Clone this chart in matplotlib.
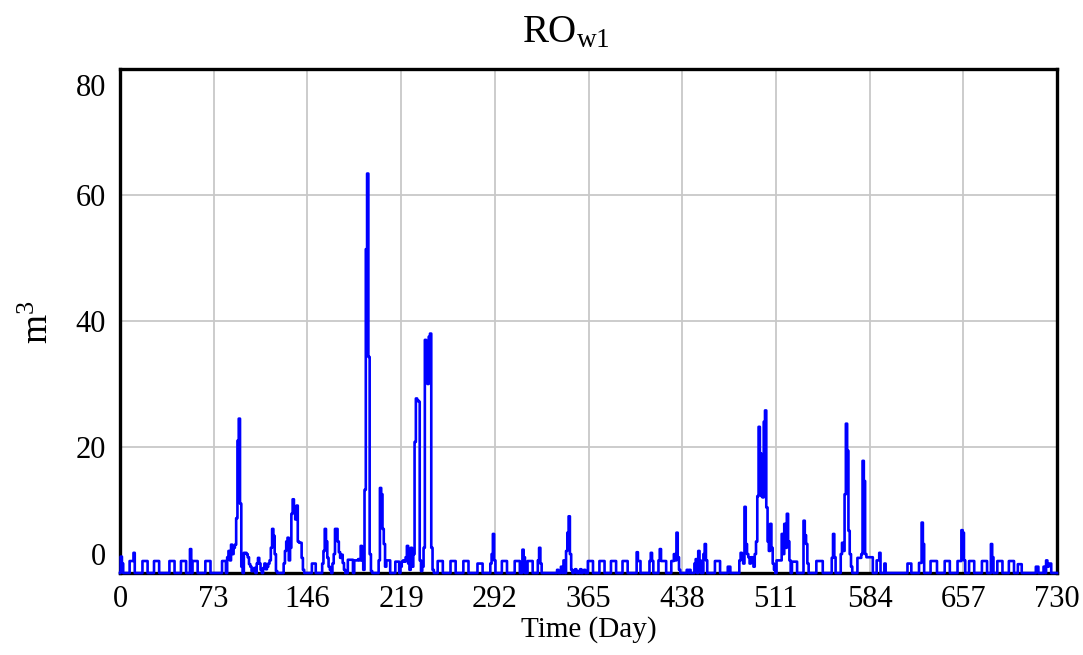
import numpy as np
import matplotlib
matplotlib.use('Agg')
import matplotlib.pyplot as plt
from matplotlib.transforms import ScaledTranslation

plt.rcParams['font.family'] = ['Liberation Serif', 'DejaVu Serif']
plt.rcParams['mathtext.fontset'] = 'custom'
plt.rcParams['mathtext.rm'] = 'Liberation Serif'
plt.rcParams['mathtext.it'] = 'Liberation Serif:italic'

n_days = 730
x_ticks = [0, 73, 146, 219, 292, 365, 438, 511, 584, 657, 730]
y_ticks = [0, 20, 40, 60, 80]

# recurring small pulses: start day, duration (days), height (m3)
pulse_start = [8, 18, 27, 39, 48, 57, 67, 80, 150, 178, 183, 208, 215, 220,
               248, 258, 268, 279, 298, 308, 318, 365, 374, 383, 392, 403,
               413, 422, 430, 464, 474, 512, 524, 543, 575, 583, 590, 614,
               623, 632, 643, 653, 662, 672, 684, 693, 700, 714, 724]
pulse_len = [3, 4, 4, 4, 4, 4, 4, 3, 3, 4, 4, 3, 3, 3,
             4, 4, 4, 4, 4, 4, 4, 4, 4, 4, 4, 3,
             3, 4, 4, 4, 2, 4, 4, 5, 3, 4, 3, 3,
             2, 5, 4, 3, 4, 4, 4, 4, 3, 2, 2]
pulse_height = [1.9, 1.9, 1.9, 1.9, 1.9, 1.9, 1.9, 1.9, 1.5, 2.1, 2.0, 2.0, 1.8, 1.8,
                1.9, 1.9, 1.9, 1.5, 1.9, 1.9, 1.9, 1.9, 1.9, 1.9, 1.9, 1.9,
                1.9, 1.9, 1.9, 1.9, 1.0, 2.0, 1.8, 1.9, 2.4, 2.5, 2.0, 1.5,
                1.6, 1.9, 1.9, 1.9, 1.9, 1.9, 1.9, 1.9, 1.4, 1.0, 1.5]

# storm runoff days (day, m3)
event_day = [1, 2, 11, 55,
             84, 85, 86, 87, 88, 89, 90, 91, 92, 93, 94, 95,
             97, 98, 99, 100, 101, 102, 103, 104, 105, 107, 108, 109, 110,
             112, 113, 114, 115, 116, 117, 118, 119, 120, 121, 122,
             128, 129, 130, 131, 132, 133, 134, 135, 136, 137, 138, 139, 140, 141, 142, 143,
             158, 159, 160, 161, 162, 163, 164,
             166, 167, 168, 169, 170, 171, 172, 173, 174, 175,
             186, 187, 188, 189, 190, 191, 192, 193, 194, 195, 196,
             202, 203, 204, 205, 206, 207,
             219, 221, 223, 224, 225, 226, 227, 228,
             229, 230, 231, 232, 233, 234, 235,
             236, 237, 238, 239, 240, 241, 242, 243, 244,
             289, 290, 291, 292, 314, 315, 326, 327, 328,
             341, 344, 346, 348, 349, 350, 351, 352,
             354, 355, 357, 359, 361, 362,
             403, 414, 420, 421,
             432, 433, 434, 435, 436,
             442, 444, 448, 449, 451, 452, 455, 456, 457,
             483, 484, 485, 486, 487, 488, 489, 490, 491, 492, 493, 494, 495, 496,
             497, 498, 499, 500, 501, 502, 503, 504, 505, 506, 507, 508, 509, 510,
             516, 517, 518, 519, 520, 521, 522,
             533, 534, 535, 536,
             555, 556, 557,
             562, 563, 564, 565, 566, 567, 568, 569, 570,
             578, 579, 580, 581, 582,
             592, 596, 625, 626, 656, 657, 658, 679, 680, 720, 722, 723]
event_val = [2.6, 1.5, 3.2, 3.8,
             2.5, 3.5, 2.0, 4.5, 3.0, 4.0, 4.5, 8.7, 21.0, 24.5, 11.0, 1.0,
             3.2, 3.2, 3.0, 2.5, 1.4, 1.0, 0.3, 0.3, 0.8, 1.5, 2.4, 1.5, 0.5,
             0.8, 1.5, 0.6, 1.0, 1.5, 2.0, 4.0, 7.0, 5.9, 3.0, 0.3,
             1.5, 3.5, 5.0, 5.6, 2.0, 4.0, 9.4, 11.7, 10.4, 8.5, 10.7, 5.0, 4.8, 4.8, 2.4, 0.5,
             1.5, 3.5, 7.0, 5.0, 2.4, 1.0, 0.5,
             1.5, 3.0, 7.0, 7.0, 5.0, 3.3, 2.4, 2.9, 1.6, 0.5,
             2.2, 2.0, 4.3, 2.0, 0.5, 13.2, 51.4, 63.4, 34.3, 3.0, 0.3,
             2.0, 13.5, 12.5, 7.0, 4.6, 1.0,
             1.0, 2.0, 2.5, 4.3, 1.5, 0.5, 4.0, 1.0,
             3.0, 20.8, 27.7, 27.4, 27.2, 2.0, 0.3,
             1.0, 4.0, 37.0, 36.5, 30.0, 37.5, 38.0, 4.0, 0.5,
             1.5, 3.0, 6.2, 2.0, 3.7, 2.5, 2.0, 4.0, 1.5,
             0.5, 1.0, 2.0, 3.5, 6.4, 9.0, 3.0, 0.5,
             0.3, 0.6, 0.3, 0.6, 0.3, 0.5,
             3.3, 3.2, 2.0, 3.8,
             3.0, 2.0, 6.4, 2.5, 0.5,
             0.5, 0.5, 1.5, 2.2, 3.5, 2.0, 3.0, 4.6, 2.0,
             2.0, 3.2, 2.5, 1.5, 10.5, 4.6, 3.0, 2.5, 1.5, 2.5, 2.5, 1.0, 3.0, 5.0,
             12.2, 23.2, 19.0, 12.2, 12.0, 24.0, 25.8, 10.4, 5.0, 3.5, 7.8, 4.0, 1.5, 0.5,
             6.2, 3.0, 7.8, 4.0, 9.4, 5.0, 2.0,
             8.3, 6.0, 4.6, 1.5,
             2.4, 6.2, 2.5,
             3.0, 4.8, 3.5, 12.5, 23.7, 19.4, 6.7, 3.0, 1.0,
             3.0, 17.8, 14.6, 3.0, 2.5,
             3.2, 1.5, 8.0, 4.6, 6.8, 6.4, 2.0, 4.6, 2.5, 1.0, 2.0, 1.0]

days = np.arange(n_days + 1)
runoff = np.zeros(n_days + 1)
for s, k, h in zip(pulse_start, pulse_len, pulse_height):
    runoff[s:s + k] = h
for d, v in zip(event_day, event_val):
    runoff[d] = v

fig = plt.figure(figsize=(10.83, 6.55), dpi=100)
ax = fig.add_axes([0.1108, 0.1252, 0.8652, 0.7695])

ax.plot(days, runoff, color='#0000ff', lw=1.9, drawstyle='steps-mid',
        zorder=3, clip_on=False)

ax.set_xlim(0, n_days)
ax.set_ylim(0, 80)
ax.set_xticks(x_ticks)
ax.set_yticks(y_ticks)
ax.grid(True, color='#c8c8c8', lw=1.3)
ax.set_axisbelow(True)
for sp in ax.spines.values():
    sp.set_linewidth(2.4)
    sp.set_color('black')

ax.tick_params(axis='both', length=0, labelsize=22)
ax.tick_params(axis='x', pad=9)
ax.tick_params(axis='y', pad=10)

# the end labels of the value axis sit inside the frame
ylabels = ax.get_yticklabels()
ylabels[0].set_transform(ylabels[0].get_transform() + ScaledTranslation(0, 0.19, fig.dpi_scale_trans))
ylabels[-1].set_transform(ylabels[-1].get_transform() + ScaledTranslation(0, -0.16, fig.dpi_scale_trans))

ax.set_xlabel('Time (Day)', fontsize=21, labelpad=1)
fig.text(0.036, 0.508, 'm$^3$', rotation=90, fontsize=27, ha='center', va='center')
fig.text(0.523, 0.936, 'RO$_{\\rm w1}$', fontsize=28, ha='center', va='baseline')

fig.savefig('out.png', dpi=100)
